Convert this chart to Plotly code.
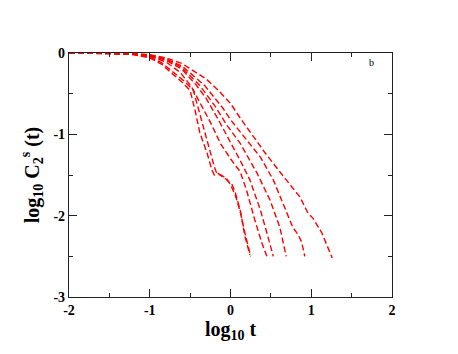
import plotly.graph_objects as go

# log10 t and log10 C2s(t), one pair of lists per curve
x1 = [-2.0, -1.5, -1.2, -1.0, -0.85, -0.7, -0.6, -0.5, -0.44, -0.38, -0.29, -0.23, -0.2, -0.155, -0.07, 0.02, 0.06, 0.12, 0.18, 0.24]
y1 = [0.0, -0.004, -0.02, -0.06, -0.14, -0.27, -0.36, -0.46, -0.70, -0.98, -1.23, -1.44, -1.50, -1.48, -1.54, -1.62, -1.72, -1.93, -2.26, -2.48]

x2 = [-2.0, -1.5, -1.2, -1.0, -0.85, -0.7, -0.58, -0.46, -0.4, -0.33, -0.25, -0.2, -0.17, -0.12, -0.05, 0.0, 0.06, 0.12, 0.18, 0.25]
y2 = [0.0, -0.004, -0.02, -0.05, -0.12, -0.24, -0.34, -0.46, -0.68, -0.95, -1.22, -1.40, -1.48, -1.50, -1.54, -1.62, -1.75, -1.95, -2.22, -2.50]

x3 = [-2.0, -1.5, -1.2, -1.0, -0.8, -0.62, -0.48, -0.38, -0.25, -0.12, 0.0, 0.12, 0.20, 0.30, 0.39, 0.45]
y3 = [0.0, -0.003, -0.015, -0.04, -0.11, -0.24, -0.42, -0.60, -0.85, -1.12, -1.30, -1.46, -1.69, -2.05, -2.34, -2.50]

x4 = [-2.0, -1.5, -1.2, -1.0, -0.8, -0.6, -0.42, -0.3, -0.15, 0.0, 0.12, 0.24, 0.37, 0.45, 0.53]
y4 = [0.0, -0.003, -0.013, -0.035, -0.09, -0.2, -0.4, -0.56, -0.82, -1.1, -1.32, -1.56, -1.93, -2.21, -2.50]

x5 = [-2.0, -1.5, -1.2, -1.0, -0.8, -0.6, -0.38, -0.2, -0.05, 0.12, 0.33, 0.49, 0.61, 0.69]
y5 = [0.0, -0.002, -0.011, -0.03, -0.08, -0.18, -0.4, -0.64, -0.88, -1.11, -1.48, -1.81, -2.14, -2.50]

x6 = [-2.0, -1.5, -1.2, -1.0, -0.8, -0.6, -0.32, -0.1, 0.0, 0.12, 0.37, 0.53, 0.65, 0.77, 0.84, 0.88, 0.92]
y6 = [0.0, -0.002, -0.01, -0.025, -0.07, -0.16, -0.4, -0.67, -0.82, -0.97, -1.28, -1.56, -1.85, -2.14, -2.24, -2.32, -2.50]

x7 = [-2.0, -1.5, -1.2, -1.0, -0.8, -0.6, -0.3, -0.15, 0.0, 0.12, 0.24, 0.43, 0.61, 0.77, 0.86, 0.96, 1.02, 1.13, 1.21, 1.26]
y7 = [0.0, -0.002, -0.008, -0.02, -0.06, -0.13, -0.32, -0.46, -0.62, -0.80, -0.97, -1.23, -1.46, -1.66, -1.77, -1.97, -2.03, -2.21, -2.40, -2.52]

curves = [(x1, y1), (x2, y2), (x3, y3), (x4, y4), (x5, y5), (x6, y6), (x7, y7)]

x_ticks = [-2, -1, 0, 1, 2]
y_ticks = [0, -1, -2, -3]

fig = go.Figure()
for xs, ys in curves:
    fig.add_trace(go.Scatter(x=xs, y=ys, mode="lines", showlegend=False,
                             line={"color": "red", "width": 1.4, "dash": "6px,3px"}))

font = "Liberation Serif, Times New Roman, serif"
axis = dict(showgrid=False, zeroline=False, showline=True, linecolor="#222", linewidth=1.3,
            mirror="allticks", ticks="inside", ticklen=8, tickwidth=1.3, tickcolor="#222",
            tickfont={"family": font, "size": 14, "color": "black", "weight": "bold"},
            minor={"ticks": "inside", "ticklen": 4, "tickwidth": 1.2, "tickcolor": "#222", "dtick": 0.5})

fig.update_xaxes(range=[-2, 2], tickvals=x_ticks, ticktext=[str(v) for v in x_ticks],
                 title={"text": "log<sub>10</sub> t", "font": {"family": font, "size": 20, "weight": "bold"}, "standoff": 2},
                 **axis)
fig.update_yaxes(range=[-3, 0], tickvals=y_ticks, ticktext=[str(v) for v in y_ticks],
                 title={"text": "log<sub>10</sub> C<sub>2</sub><sup>s</sup> (t)", "font": {"family": font, "size": 20, "weight": "bold"}, "standoff": 8},
                 **axis)
# the page body adds an 8px margin, so shift the plot area back by that much
fig.update_layout(width=458, height=354, margin=dict(l=61, r=74, t=45, b=65, autoexpand=False),
                  plot_bgcolor="white", paper_bgcolor="white",
                  font={"family": font, "color": "black"})
fig.add_annotation(x=1.75, y=-0.12, text="b", showarrow=False, font={"family": font, "size": 10})
fig.write_html("out.html")
